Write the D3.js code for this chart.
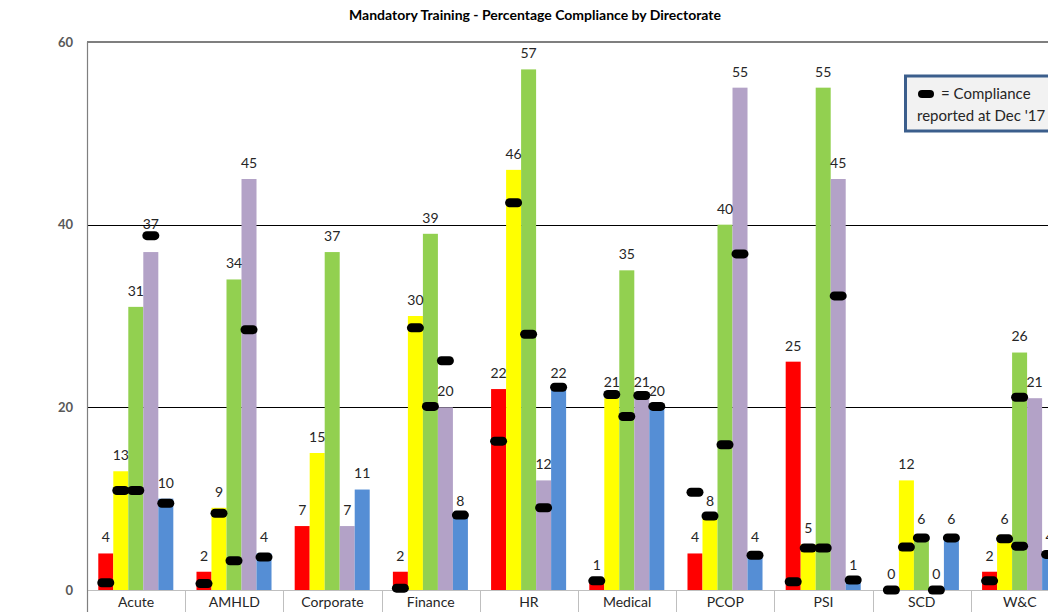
<!DOCTYPE html>
<html>
<head>
<meta charset="utf-8">
<script src="https://cdn.jsdelivr.net/npm/d3@7"></script>
<style>
  html, body { margin: 0; padding: 0; background: #fff; overflow: hidden; }
  svg { display: block; font-family: Lato, "Open Sans", sans-serif; }
</style>
</head>
<body>
<svg id="chart" width="1048" height="612"></svg>
<script>
// Directorates along the category axis
const categories = ["Acute", "AMHLD", "Corporate", "Finance", "HR", "Medical", "PCOP", "PSI", "SCD", "W&C"];

// Current compliance per directorate, one array per bar colour
const redValues    = [4, 2, 7, 2, 22, 1, 4, 25, 0, 2];
const yellowValues = [13, 9, 15, 30, 46, 21, 8, 5, 12, 6];
const greenValues  = [31, 34, 37, 39, 57, 35, 40, 55, 6, 26];
const purpleValues = [37, 45, 7, 20, 12, 21, 55, 45, 0, 21];
const blueValues   = [10, 4, 11, 8, 22, 20, 4, 1, 6, 4];

// Compliance reported at Dec '17 (black markers); null = no marker, list = several markers on one bar
const redDec17    = [0.8, 0.7, null, 0.2, 16.3, 1.0, 10.7, 0.9, 0, 1.0];
const yellowDec17 = [10.9, 8.4, null, 28.7, 42.4, 21.4, 8.1, 4.6, 4.7, 5.6];
const greenDec17  = [10.9, 3.2, null, 20.1, 28.0, 19.0, 15.9, 4.6, 5.7, [4.8, 21.1]];
const purpleDec17 = [38.8, 28.5, null, 25.1, 9.0, 21.3, 36.8, 32.2, 0, null];
const blueDec17   = [9.5, 3.6, null, 8.2, 22.2, 20.1, 3.8, 1.1, 5.7, 3.9];

const yTicks = [0, 20, 40, 60];

const colours = ["#FF0000", "#FFFF00", "#92D050", "#B3A2C7", "#558ED5"];
const seriesKeys = ["red", "yellow", "green", "purple", "blue"];
const seriesValues = [redValues, yellowValues, greenValues, purpleValues, blueValues];
const seriesDec17 = [redDec17, yellowDec17, greenDec17, purpleDec17, blueDec17];

const svg = d3.select("#chart");

const plotLeft = 87, plotTop = 42, plotBottom = 590;
const bandW = 98.2;

const x0 = d3.scaleBand().domain(categories).range([plotLeft, plotLeft + bandW * categories.length]).padding(0);
const groupW = x0.bandwidth() * 0.764;
const groupOffset = (x0.bandwidth() - groupW) / 2 - 0.3;
const x1 = d3.scaleBand().domain(seriesKeys).range([0, groupW]).padding(0);
const y = d3.scaleLinear().domain([0, 60]).range([plotBottom, plotTop]);

// Title
svg.append("text")
  .attr("x", 535).attr("y", 20)
  .attr("text-anchor", "middle")
  .attr("font-size", 14).attr("font-weight", "bold").attr("fill", "#000")
  .text("Mandatory Training - Percentage Compliance by Directorate");

// Gridlines at 20 and 40
svg.append("g")
  .selectAll("line")
  .data(yTicks.filter(t => t > 0 && t < 60))
  .join("line")
  .attr("x1", plotLeft).attr("x2", 1048)
  .attr("y1", d => Math.round(y(d)) + 0.5).attr("y2", d => Math.round(y(d)) + 0.5)
  .attr("stroke", "#000").attr("stroke-width", 1);

// Top border of the plot area
svg.append("line")
  .attr("x1", plotLeft).attr("x2", 1048)
  .attr("y1", y(60)).attr("y2", y(60))
  .attr("stroke", "#7F7F7F").attr("stroke-width", 2);

// Y axis tick labels
const yAxis = d3.axisLeft(y).tickValues(yTicks).tickSize(0).tickPadding(14);
const yAxisG = svg.append("g").attr("transform", `translate(${plotLeft},0)`).call(yAxis);
yAxisG.select(".domain").remove();
yAxisG.selectAll("text")
  .attr("font-family", "Lato, sans-serif")
  .attr("font-size", 13).attr("font-weight", "bold").attr("fill", "#595959");

// Category axis: baseline, dividers and labels
svg.append("line")
  .attr("x1", plotLeft).attr("x2", 1048)
  .attr("y1", plotBottom + 0.5).attr("y2", plotBottom + 0.5)
  .attr("stroke", "#BFBFBF").attr("stroke-width", 1);

svg.append("g")
  .selectAll("line")
  .data(categories.slice(1))
  .join("line")
  .attr("x1", d => Math.round(x0(d)) + 0.5).attr("x2", d => Math.round(x0(d)) + 0.5)
  .attr("y1", plotBottom).attr("y2", 612)
  .attr("stroke", "#BFBFBF").attr("stroke-width", 1);

svg.append("g")
  .selectAll("text")
  .data(categories)
  .join("text")
  .attr("x", d => x0(d) + x0.bandwidth() / 2)
  .attr("y", 607)
  .attr("text-anchor", "middle")
  .attr("font-size", 14).attr("fill", "#262626")
  .text(d => d);

// Bars
const barData = [];
seriesKeys.forEach((key, si) => {
  categories.forEach((cat, ci) => {
    barData.push({ key, si, cat, ci, value: seriesValues[si][ci], dec: seriesDec17[si][ci] });
  });
});

const barX = d => x0(d.cat) + groupOffset + x1(d.key);

svg.append("g")
  .selectAll("rect")
  .data(barData)
  .join("rect")
  .attr("x", barX)
  .attr("y", d => y(d.value))
  .attr("width", x1.bandwidth())
  .attr("height", d => y(0) - y(d.value))
  .attr("fill", d => colours[d.si]);

// Left axis line of the plot area
svg.append("line")
  .attr("x1", plotLeft + 0.5).attr("x2", plotLeft + 0.5)
  .attr("y1", plotTop).attr("y2", 612)
  .attr("stroke", "#7F7F7F").attr("stroke-width", 1.2);

// Dec '17 markers
const markerData = [];
barData.forEach(d => {
  if (d.dec === null) return;
  const list = Array.isArray(d.dec) ? d.dec : [d.dec];
  list.forEach(v => markerData.push({ cx: barX(d) + x1.bandwidth() / 2, value: v }));
});

const mW = 17, mH = 9;
svg.append("g")
  .selectAll("rect")
  .data(markerData)
  .join("rect")
  .attr("x", d => d.cx - mW / 2)
  .attr("y", d => y(d.value) - mH / 2)
  .attr("width", mW).attr("height", mH)
  .attr("rx", mH / 2).attr("ry", mH / 2)
  .attr("fill", "#000");

// Value labels above each bar, lifted clear of a marker sitting just above the bar
const labelY = d => {
  const decs = d.dec === null ? [] : (Array.isArray(d.dec) ? d.dec : [d.dec]);
  const above = decs.filter(v => v - d.value > 1 && v - d.value < 4);
  if (above.length) return y(d3.max(above)) - 12;
  return y(d.value) - 16;
};

svg.append("g")
  .selectAll("text")
  .data(barData)
  .join("text")
  .attr("x", d => barX(d) + x1.bandwidth() / 2)
  .attr("y", labelY)
  .attr("dy", "0.35em")
  .attr("text-anchor", "middle")
  .attr("font-size", 14).attr("fill", "#262626")
  .text(d => d.value);

// Marker key box
const key = svg.append("g");
key.append("rect")
  .attr("x", 905.5).attr("y", 76)
  .attr("width", 200).attr("height", 55)
  .attr("fill", "#F2F2F2")
  .attr("stroke", "#3B5E8C").attr("stroke-width", 3);
key.append("rect")
  .attr("x", 918).attr("y", 90)
  .attr("width", 16).attr("height", 8)
  .attr("rx", 4).attr("ry", 4)
  .attr("fill", "#000");
key.append("text")
  .attr("x", 941).attr("y", 99)
  .attr("font-size", 15).attr("fill", "#262626")
  .text("= Compliance");
key.append("text")
  .attr("x", 917).attr("y", 121)
  .attr("font-size", 15).attr("fill", "#262626")
  .text("reported at Dec '17");
</script>
</body>
</html>
